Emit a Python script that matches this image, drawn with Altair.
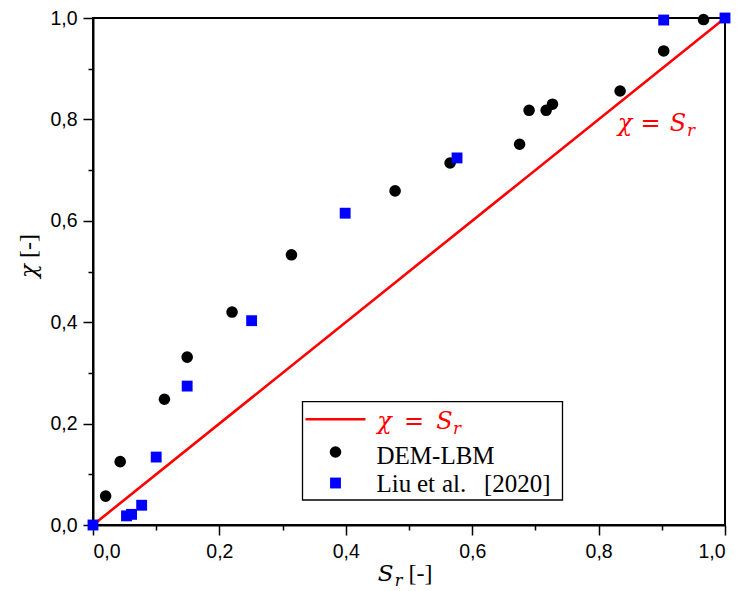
import altair as alt
import pandas as pd

# DEM-LBM results (black circles)
dem_x = [0.020, 0.043, 0.113, 0.149, 0.220, 0.314, 0.478, 0.565, 0.675, 0.690, 0.717, 0.727, 0.834, 0.903, 0.966]
dem_y = [0.057, 0.125, 0.248, 0.331, 0.420, 0.533, 0.659, 0.714, 0.751, 0.818, 0.818, 0.830, 0.856, 0.935, 0.997]

# Liu et al. [2020] (blue squares)
liu_x = [0.0, 0.053, 0.061, 0.077, 0.100, 0.149, 0.251, 0.399, 0.576, 0.903, 1.0]
liu_y = [0.0, 0.018, 0.021, 0.039, 0.134, 0.274, 0.403, 0.615, 0.724, 0.996, 1.0]

# reference line chi = S_r
line_x = [0.0, 1.0]
line_y = [0.0, 1.0]

tick_values = [0.0, 0.1, 0.2, 0.3, 0.4, 0.5, 0.6, 0.7, 0.8, 0.9, 1.0]

W, H = 632, 507
SANS = "Liberation Sans"
SERIF = "Liberation Serif"
MATH = "DejaVu Serif"
RED = "#ff0000"

minor_test = "round(datum.value*10) % 2 == 1"
label_expr = f"{minor_test} ? '' : replace(format(datum.value, '.1f'), '.', ',')"


def make_axis(pad):
    return alt.Axis(
        values=tick_values,
        labelExpr=label_expr,
        tickSize={"condition": {"test": minor_test, "value": 5}, "value": 10},
        grid=False,
        title=None,
        domainColor="black",
        domainWidth=2,
        tickColor="black",
        tickWidth=1.5,
        labelFont=SANS,
        labelFontSize=19.5,
        labelColor="black",
        labelPadding=pad,
    )


xs = alt.Scale(domain=[0, 1], nice=False, zero=False)
ys = alt.Scale(domain=[0, 1], nice=False, zero=False)

line_df = pd.DataFrame({"x": line_x, "y": line_y})
dem_df = pd.DataFrame({"x": dem_x, "y": dem_y})
liu_df = pd.DataFrame({"x": liu_x, "y": liu_y})

line = alt.Chart(line_df).mark_line(color=RED, strokeWidth=2.6).encode(
    x=alt.X("x:Q", scale=xs, axis=make_axis(7)),
    y=alt.Y("y:Q", scale=ys, axis=make_axis(6)),
)
dem = alt.Chart(dem_df).mark_point(shape="circle", filled=True, color="black", opacity=1, size=135).encode(
    x=alt.X("x:Q", scale=xs), y=alt.Y("y:Q", scale=ys)
)
liu = alt.Chart(liu_df).mark_point(shape="square", filled=True, color="#0000ff", opacity=1, size=118).encode(
    x=alt.X("x:Q", scale=xs), y=alt.Y("y:Q", scale=ys)
)

one = pd.DataFrame({"a": [0]})


def txt(s, x, y, size=25, font=SERIF, style="normal", color="black", align="left", baseline="alphabetic", angle=0):
    return alt.Chart(one).mark_text(
        text=s, font=font, fontSize=size, fontStyle=style, color=color,
        align=align, baseline=baseline, angle=angle,
    ).encode(x=alt.value(x), y=alt.value(y))


def math_chi_eq_sr(cx_chi, cx_eq, cx_s, cx_r, base, color, size=25):
    return [
        txt("χ", cx_chi, base, size=size, font=MATH, style="italic", color=color, align="center"),
        txt("=", cx_eq, base, size=size, font=MATH, color=color, align="center"),
        txt("S", cx_s, base, size=size, font=MATH, style="italic", color=color, align="center"),
        txt("r", cx_r, base + 5, size=size * 0.7, font=MATH, style="italic", color=color, align="center"),
    ]


# axis titles
xt = [
    txt("S", 292.5, 563, size=23, font=MATH, style="italic", align="center"),
    txt("r", 305.5, 568, size=16, font=MATH, style="italic", align="center"),
    txt("[-]", 315.5, 563, size=24, align="left"),
]
yt = [
    txt("χ", -64, 253, size=23, font=MATH, style="italic", align="center", baseline="middle", angle=270),
    txt("[-]", -64, 228, size=24, align="center", baseline="middle", angle=270),
]

# annotation near the line
ann = math_chi_eq_sr(532, 557.5, 585, 598, 113, RED, size=24)

# legend
box = alt.Chart(one).mark_rect(fill="white", stroke="black", strokeWidth=1.3).encode(
    x=alt.value(209.5), x2=alt.value(469.5), y=alt.value(383.7), y2=alt.value(482)
)
leg_line = alt.Chart(one).mark_rule(color=RED, strokeWidth=2.6).encode(
    x=alt.value(212.5), x2=alt.value(272.5), y=alt.value(401.3)
)
leg_c = alt.Chart(one).mark_point(shape="circle", filled=True, color="black", opacity=1, size=135).encode(
    x=alt.value(242.5), y=alt.value(434)
)
leg_s = alt.Chart(one).mark_point(shape="square", filled=True, color="#0000ff", opacity=1, size=118).encode(
    x=alt.value(242.5), y=alt.value(465)
)
leg_math = math_chi_eq_sr(291.5, 321, 351.5, 364, 411, RED, size=24)
leg_t2 = txt("DEM-LBM", 283.5, 445.5)
leg_t3 = [
    txt("Liu", 283.5, 473.5),
    txt("et", 324, 473.5),
    txt("al.", 349, 473.5),
    txt("[2020]", 391, 473.5),
]

layers = [line, dem, liu] + xt + yt + ann + [box, leg_line, leg_c, leg_s] + leg_math + [leg_t2] + leg_t3

chart = alt.layer(*layers).properties(
    width=W, height=H,
    autosize="none",
    padding={"left": 85, "top": 10, "right": 10, "bottom": 66},
    background="white",
).configure_view(stroke="black", strokeWidth=2)

chart.save("out.html", embed_options={"renderer": "svg", "actions": False})
